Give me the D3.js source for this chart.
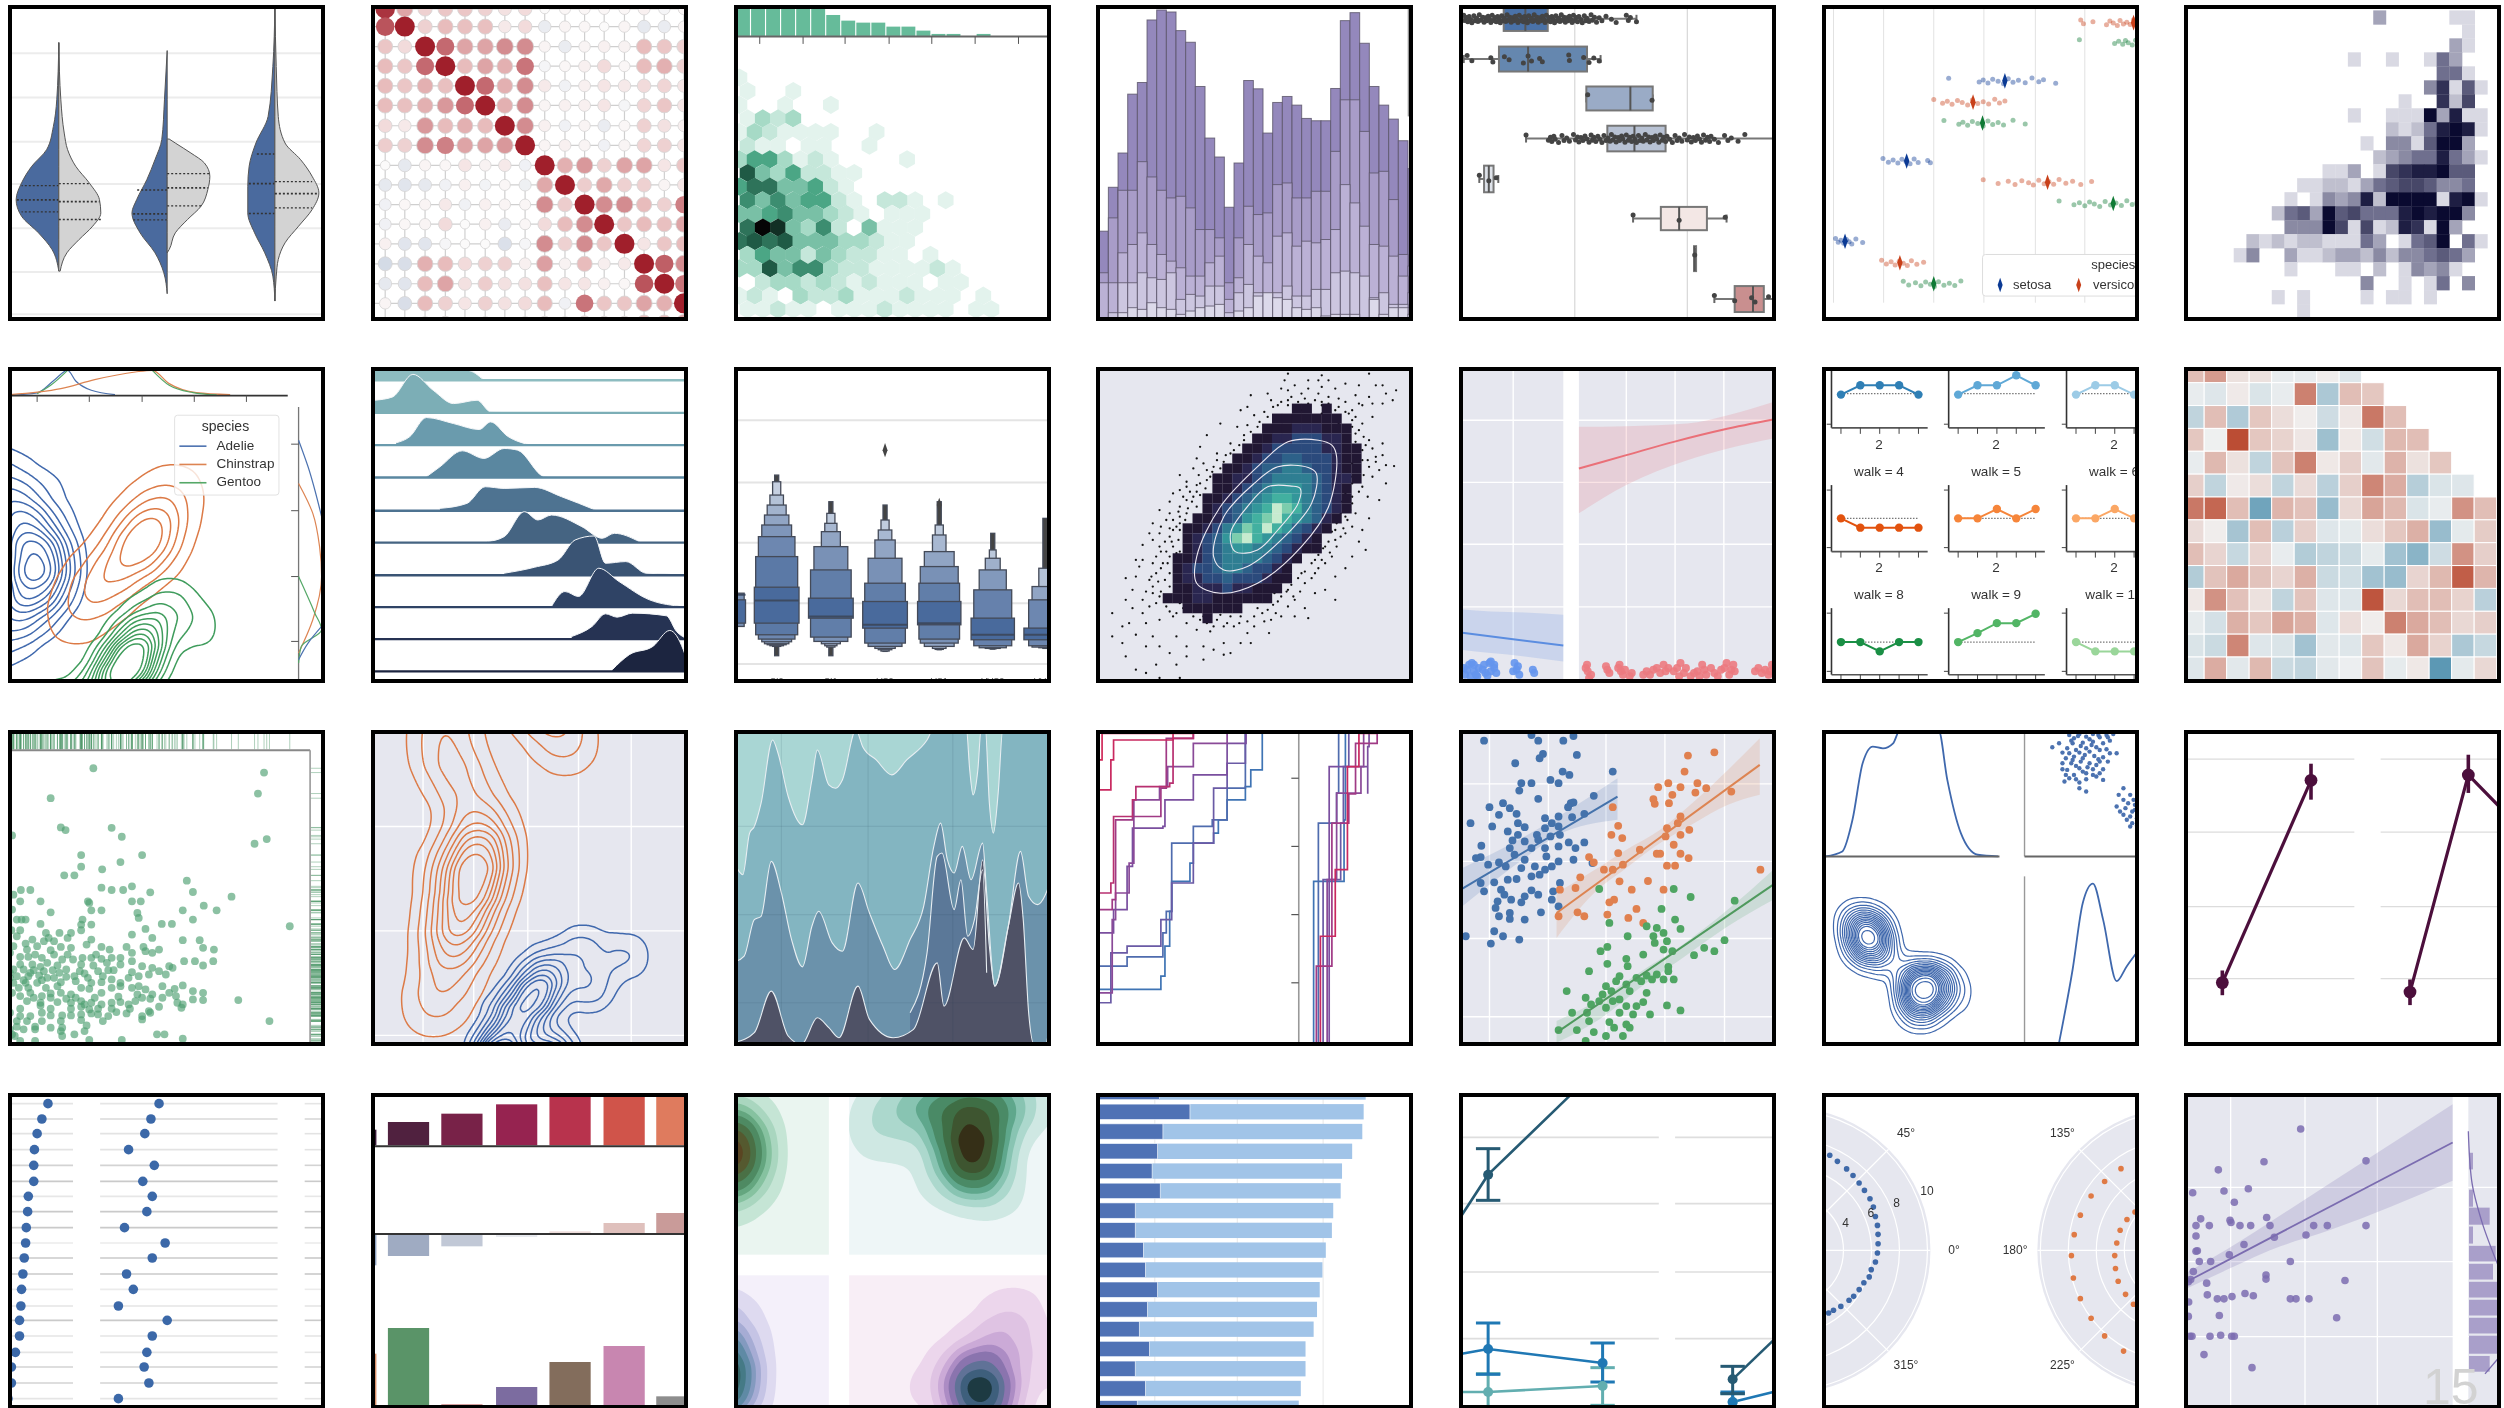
<!DOCTYPE html>
<html>
<head>
<meta charset="utf-8">
<title>seaborn gallery montage</title>
<script src="https://cdn.jsdelivr.net/npm/d3@7"></script>
<style>
html, body { margin: 0; padding: 0; background: #fff; overflow: hidden; }
svg { display: block; filter: blur(0.75px); font-family: "Liberation Sans", Arial, sans-serif; }
</style>
</head>
<body>
<svg id="chart" width="2504" height="1408"></svg>
<script>
// ---- panel grid -------------------------------------------------------------
const colLeft = [8, 371, 734, 1096, 1459, 1822, 2184];
const rowTop = [5, 367, 730, 1093];
const panelW = 317, panelH = 316;
// every panel has unlabelled axes, so values are read on a per panel axis span
const xSpans = [[12, 480], [548, 1017], [1085, 1553], [16, 485], [553, 1021], [1090, 1558], [42, 993]];
const ySpans = [[15, 965], [20, 970], [30, 980], [38, 986]];
const ySpansLast = [[10, 715], [818, 1523], [60, 763], [865, 1568]];

// ---- data: violins ----------------------------------------------------------
const violinCenters = [87, 247, 406];
const violinLeft = [
  [[128,0],[300,3],[380,8],[450,18],[500,40],[550,55],[600,63],[650,55],[700,30],[750,10],[815,0]],
  [[152,0],[300,4],[420,8],[480,18],[540,30],[600,45],[640,52],[700,40],[760,18],[820,5],[883,0]],
  [[20,0],[200,3],[350,10],[430,28],[500,38],[560,40],[640,40],[700,30],[760,15],[830,3],[905,0]]];
const violinRight = [
  [[128,0],[300,3],[400,8],[450,13],[500,25],[550,45],[600,60],[640,62],[680,50],[720,30],[760,12],[815,2]],
  [[418,3],[430,12],[460,35],[490,55],[530,63],[570,60],[620,50],[660,30],[700,12],[750,3],[760,0]],
  [[20,0],[200,2],[350,5],[430,15],[480,38],[530,55],[580,65],[630,55],[680,35],[730,15],[780,5],[830,2],[905,0]]];
const violinQuartLeft = [[558,601,637],[571,643,661],[463,552,642]];
const violinQuartRight = [[552,606,660],[522,565,619],[546,582,625]];
const violinGrid = [160,293,426,553,686,818,945];

// ---- data: correlation dots -------------------------------------------------
const corrCols = [569,598,628,658,687,717,746,776,805,835,864,893,923,952,982,1011];
const corrRows = [27,80,140,199,258,317,378,437,497,556,615,674,733,793,853,912,970];
const corrValues = [
  [.9,.4,.2,.25,.25,.2,.12,.15,0,.02,.02,.02,.02,.05,-.03,.03],
  [.75,1,.2,.3,.28,.28,.08,.15,-.08,.03,.02,0,.03,-.1,-.08,.03],
  [.25,.15,1,.65,.4,.4,.5,.5,.03,-.08,.03,.05,.04,.3,.25,.2],
  [.3,.25,.65,1,.3,.4,.35,.6,-.03,.02,.05,.15,.02,.3,.35,.2],
  [.3,.25,.35,.28,1,.65,.35,.5,.08,-.05,.05,.1,.08,.15,.18,.1],
  [.3,.28,.35,.45,.65,1,.35,.5,.03,.05,.05,.1,-.03,.18,.25,.1],
  [.15,.08,.45,.3,.35,.3,1,.5,.05,-.05,.03,-.08,.02,.2,.12,.05],
  [.22,.2,.5,.55,.4,.4,.45,1,.03,.05,.03,-.05,.03,.18,.2,.1],
  [0,-.1,.03,.02,.1,.04,.08,-.05,1,.35,.45,.2,.4,.4,.1,.25],
  [-.1,-.12,-.1,-.05,.05,-.04,.02,-.06,.38,1,.22,.38,.2,.2,.03,.1],
  [-.05,.02,.03,.08,-.05,.05,.03,.02,.5,.22,1,.5,.5,.3,.2,.55],
  [-.05,.02,.03,.15,0,.05,-.08,.02,.15,.3,.5,1,.25,.3,.28,.4],
  [.05,-.12,-.12,-.03,0,0,-.15,-.03,.5,.2,.5,.25,1,.1,.25,.3],
  [-.18,-.16,.35,.3,.15,.2,.2,.05,.42,.04,.3,.06,.08,1,.7,.5],
  [-.1,-.12,.3,.4,.12,.22,.12,.12,.28,.1,.1,.05,.02,.75,1,.6],
  [.03,-.16,.3,.2,.1,.2,.12,.15,.3,-.05,.6,.25,.25,.4,.35,1],
  [0,0,.05,.1,0,.05,0,.05,.1,.05,.15,.1,.1,.3,.3,.4]];

// ---- data: hexbin -----------------------------------------------------------
const hexTopBars = [25,25,25,25,25,25,45,62,68,68,80,80,92,102,102,110,102];
const hexTicks = [1123,1187,1249,1314,1377,1441,1505];
const hexRowY = [233,274,315,356,397,438,479,520,561,602,643,684,725,766,807,848,889,930];
const hexRowStart = [1093,1105,1093,1105,1093,1105,1093,1105,1093,1105,1093,1105,1093,1105,1093,1105,1093,1105];
const hexCounts = [
  [1],
  [1,0,0,1],
  [1,0,0,1,0,0,1],
  [1,3,2,3],
  [1,3,2,1,1,1,1,0,0,1],
  [2,1,1,0,1,1,0,0,1],
  [3,5,5,3,1,2,1,0,0,0,0,1],
  [8,4,3,5,2,2,1,1],
  [5,7,7,4,4,5,2,1],
  [6,4,6,4,5,5,2,1,0,2,2,1,0,1],
  [4,4,5,6,4,4,3,2,1,0,1,1,1],
  [7,10,9,4,3,6,2,0,4,1,1,1],
  [7,8,7,8,4,4,4,3,3,2,1,1],
  [3,5,4,4,2,4,3,2,2,1,1,0,1],
  [3,3,8,4,6,6,3,2,2,1,1,1,1,2,1],
  [0,2,3,3,2,3,2,1,2,1,1,1,0,1,1],
  [1,2,1,0,3,2,2,3,1,1,1,2,1,1,1,0,1],
  [1,1,2,1,1,0,1,1,1,2,1,1,1,1,0,1,1]];

// ---- data: stacked histogram ------------------------------------------------
const histLayer1 = [695,563,460,283,248,60,30,36,92,127,260,415,472,623,490,242,267,400,308,290,316,356,363,363,266,62,38,130,260,316,358,423,507];
const histLayer2 = [820,655,572,572,486,532,572,595,590,625,690,690,715,850,715,620,645,640,555,550,595,595,575,575,455,300,300,395,520,515,600,765,800];
const histLayer3 = [850,850,760,735,700,735,765,785,805,830,830,790,770,900,835,735,770,790,710,700,740,725,730,720,690,555,610,680,735,740,770,830,880];
const histLayer4 = [960,940,850,850,820,835,840,820,900,885,890,860,860,940,880,855,880,900,880,860,890,890,870,870,820,815,820,830,895,880,915,915,925];
const histLayer5 = [975,975,940,925,930,910,925,930,945,935,925,920,915,965,935,925,890,880,895,900,925,930,925,950,945,945,945,955,900,945,925,925,945];
const histColors = ["#9488bc","#a89cc8","#bbb1d5","#ccc6e0","#dcd9ea"];

// ---- data: box plot with strip ----------------------------------------------
const boxLo = [619,612,741,772,590,851,900,960];
const boxHi = [684,742,839,858,604,919,903,1003];
const boxMed = [651,655,806,812,597,878,901,987];
const whiskLo = [560,560,741,652,583,810,901,930];
const whiskHi = [815,762,839,1017,611,948,901,1017];
const boxY = [[20,93],[140,215],[260,332],[378,455],[498,578],[622,692],[740,815],[860,938]];
const boxFill = ["#4a72a8","#6587af","#9aabc6","#b8c2d4","#dfe3ea","#f3e7e5","#eadada","#c98f8f"];
const stripX = [
  [560,562,564,566,568,570,572,575,577,579,581,583,585,588,590,592,594,596,598,600,602,604,606,608,610,612,614,616,618,620,622,624,626,628,630,632,634,636,638,640,642,644,646,648,650,652,654,656,658,660,662,664,666,668,670,672,674,676,678,680,682,684,686,688,690,692,694,696,698,700,702,704,706,708,710,712,714,716,718,720,722,724,726,728,730,733,735,738,740,742,745,748,750,753,756,760,764,770,778,785,800,803,806,815],
  [565,572,600,603,620,627,648,655,660,672,676,715,716,737,745,752,760],
  [743,838],
  [652,685,688,690,693,695,700,705,708,712,716,722,725,728,730,733,736,739,742,745,748,750,752,755,758,761,764,767,770,773,776,778,780,783,785,788,790,793,795,798,800,803,805,808,810,813,815,818,820,823,825,828,830,833,835,838,840,843,845,848,850,853,855,858,860,864,868,872,875,878,882,886,890,893,896,899,902,905,908,911,914,917,920,923,925,930,936,945,950,955,965,975],
  [583,597,608],
  [810,878,946],
  [901],
  [930,960,985,990,1010]];
const stripJitter = [-11,5,-4,9,-7,2,12,-9,6,-2,8,-12,4,-5,10,-3,6,-8,1,11];

// ---- data: iris strip -------------------------------------------------------
const irisGrid = [1107,1181,1255,1329,1405,1478];
const irisRows = [68,127,243,307,370,484,548,612,725,790,853];
const irisKind = [1,2,0,1,2,0,1,2,0,1,2];
const irisMean = [1550,1580,1360,1313,1327,1215,1423,1520,1124,1205,1255];
const irisX = [
  [1472,1476,1490,1510,1515,1520,1526,1530,1535,1540,1545,1550,1555],
  [1470,1522,1528,1534,1538,1542,1548,1553],
  [1277,1322,1328,1335,1342,1350,1358,1365,1372,1380,1390,1400,1410,1417,1435],
  [1255,1268,1275,1282,1290,1297,1305,1312,1320,1328,1336,1345,1352,1360],
  [1270,1292,1298,1305,1312,1320,1328,1335,1342,1350,1358,1372,1390],
  [1180,1188,1195,1202,1208,1214,1220,1226,1232,1246,1250],
  [1328,1350,1365,1375,1385,1395,1402,1410,1418,1425,1432,1440,1450,1460,1472,1488],
  [1440,1462,1470,1478,1485,1492,1500,1508,1516,1524,1532,1540,1548,1555],
  [1110,1114,1118,1122,1126,1130,1134,1140,1150],
  [1178,1185,1192,1198,1204,1210,1216,1222,1230,1240],
  [1210,1218,1228,1236,1243,1250,1256,1262,1270,1278,1286,1295]];
const irisColors = ["#0b3a94","#c8401a","#0f7a35"];

// ---- data: 2d histogram -----------------------------------------------------
const gridCells = [
  [0,14,3],[0,20,1],[0,21,1],[1,21,1],[2,20,3],[2,21,1],
  [3,12,1],[3,15,1],[3,18,1],[3,19,5],[3,20,3],[4,19,5],[4,20,5],[4,21,1],
  [5,18,4],[5,19,8],[5,20,1],[5,21,6],[5,22,1],[6,16,1],[6,19,8],[6,20,2],[6,21,7],
  [7,12,1],[7,15,1],[7,16,1],[7,17,1],[7,18,10],[7,19,3],[7,20,9],[7,21,1],[7,22,1],
  [8,15,2],[8,16,1],[8,17,2],[8,18,5],[8,19,9],[8,20,10],[8,21,9],[8,22,1],
  [9,13,1],[9,15,4],[9,16,4],[9,17,1],[9,18,6],[9,19,10],[9,20,10],[9,21,3],
  [10,14,2],[10,15,3],[10,16,4],[10,17,5],[10,18,5],[10,19,9],[10,20,5],[10,21,3],[10,22,1],
  [11,10,1],[11,11,1],[11,12,3],[11,14,1],[11,15,7],[11,16,8],[11,17,9],[11,18,9],[11,19,10],[11,20,6],[11,21,6],
  [12,8,1],[12,9,1],[12,10,2],[12,11,2],[12,12,1],[12,13,3],[12,14,5],[12,15,6],[12,16,7],[12,17,7],[12,18,6],[12,19,4],[12,20,4],[12,21,5],
  [13,7,1],[13,9,1],[13,10,4],[13,11,3],[13,12,4],[13,13,9],[13,14,2],[13,15,10],[13,16,10],[13,17,10],[13,18,10],[13,19,1],[13,20,9],[13,21,10],[13,22,1],
  [14,6,2],[14,7,5],[14,8,6],[14,9,3],[14,10,10],[14,11,6],[14,12,7],[14,13,5],[14,14,5],[14,15,5],[14,16,9],[14,17,10],[14,18,9],[14,19,10],[14,20,10],[14,21,4],
  [15,7,4],[15,8,4],[15,9,4],[15,10,10],[15,11,7],[15,12,1],[15,13,7],[15,14,1],[15,15,2],[15,16,9],[15,17,8],[15,18,1],[15,19,10],[15,20,3],
  [16,4,2],[16,5,1],[16,6,2],[16,7,1],[16,8,2],[16,9,2],[16,10,1],[16,11,1],[16,12,1],[16,13,5],[16,14,3],[16,16,1],[16,17,5],[16,18,6],[16,19,10],[16,21,5],[16,22,1],
  [17,3,1],[17,4,4],[17,7,3],[17,8,1],[17,9,1],[17,10,2],[17,11,3],[17,12,3],[17,13,2],[17,14,4],[17,15,2],[17,16,4],[17,17,4],[17,18,5],[17,19,6],[17,20,5],[17,21,3],
  [18,7,1],[18,11,1],[18,12,1],[18,14,2],[18,16,1],[18,17,4],[18,18,3],[18,19,4],[18,20,1],
  [19,13,4],[19,16,1],[19,18,1],[19,19,5],[19,21,4],
  [20,6,1],[20,8,1],[20,13,1],[20,15,1],[20,16,1],[20,18,1],[21,8,1]];

// ---- data: KDE with marginals -----------------------------------------------
const penguinAdelie = [[-10,340,1.2],[15,420,2],[35,500,4],[55,600,7],[50,680,5],[20,770,3],[-25,860,1.2],[95,300,.4],[130,400,.3]];
const penguinChinstrap = [[110,780,1.5],[135,700,3],[165,645,4],[200,575,6],[222,520,6],[238,450,3],[262,385,1.2]];
const penguinGentoo = [[130,1050,3],[170,970,6],[195,900,7],[215,820,4],[250,730,1.5],[290,800,1],[100,1050,1],[60,1050,1]];
const margTopAdelie = [[15,105],[55,98],[80,60],[100,30],[112,62],[135,90],[170,103]];
const margTopGentoo = [[55,100],[75,75],[100,30]];
const margTopChinstrap = [[15,103],[90,85],[140,58],[200,35],[225,30],[250,70],[290,97],[340,103]];
const margTopGentoo2 = [[225,30],[250,75],[285,97],[320,104]];
const margRightAdelie = [[441,240],[455,320],[475,470]];
const margRightChinstrap = [[441,370],[462,460],[472,560],[475,650],[462,780],[441,880]];
const margRightGentoo = [[441,650],[465,760],[475,810],[445,860],[441,910]];
const margRightAdelie2 = [[475,800],[455,850],[441,900]];

// ---- data: ridge plot -------------------------------------------------------
const ridgeBase = [60,158,255,352,452,548,646,742,838,935];
const ridgeColors = ["#8dbcc0","#7caeb6","#6a9bad","#5a87a0","#4e7391","#456482","#3a5474","#2f4365","#263353","#1c2540"];
const ridgeShapes = [
  [[553,30],[620,30],[690,30],[715,60]],
  [[553,120],[580,110],[610,42],[640,90],[670,130],[705,120],[725,155],[760,158]],
  [[585,248],[605,230],[630,172],[670,190],[708,208],[725,185],[750,228],[785,255]],
  [[630,350],[650,320],[683,272],[715,295],[745,265],[765,270],[805,350],[825,352]],
  [[650,445],[690,430],[717,380],[745,385],[790,382],[830,410],[880,450]],
  [[720,545],[745,530],[775,455],[795,480],[815,465],[860,500],[890,535],[908,520],[945,545]],
  [[745,640],[790,622],[825,600],[850,540],[878,528],[895,610],[925,605],[955,640],[990,642]],
  [[815,740],[835,695],[855,710],[885,625],[915,665],[960,720],[1010,740]],
  [[845,830],[875,800],[895,762],[912,772],[935,760],[985,768],[1000,815],[1017,838]],
  [[905,930],[930,885],[965,860],[990,812],[1010,870],[1020,935]]];

// ---- data: letter value plot ------------------------------------------------
const boxenGrid = [180,367,548,730,913];
const boxenCenters = [1072,1148,1228,1308,1388,1467,1545];
const boxenLevels = [
  [[540,815,8],[640,808,18],[700,800,28],[720,790,30]],
  [[345,888,3],[365,860,6],[405,858,10],[435,855,14],[465,852,18],[495,846,22],[530,838,27],[590,825,31],[682,790,33]],
  [[425,888,3],[460,862,6],[490,858,9],[515,852,14],[560,845,25],[630,832,30],[715,775,33]],
  [[435,875,3],[480,874,6],[510,870,10],[540,866,15],[595,860,25],[670,850,30],[725,805,33]],
  [[425,870,3],[495,869,6],[525,866,10],[575,860,22],[620,850,28],[670,838,30],[725,795,32]],
  [[520,868,3],[570,867,5],[595,866,11],[630,864,20],[690,858,28],[775,840,32]],
  [[475,866,4],[625,864,10],[680,862,20],[720,858,25],[805,840,32]]];
const boxenMedian = [705,722,770,795,790,825,825];
const boxenOutliers = [[1308,270],[1388,435]];
const boxenLabels = ["SI2","SI1","VS2","VS1","VVS2","VVS1"];

// ---- data: hist2d with scatter and contours ---------------------------------
const hexmapRows = [145,175,205,235,265,295,325,355,385,415,445,475,505,535,565,595,625,655,685,715,745,775];
const hexmapStart = [14,12,11,10,9,8,7,6,6,5,5,4,3,3,3,2,2,2,2,1,3,5];
const hexmapValues = [
  [1,1,0,1],
  [1,1,1,1,1,1,1],
  [1,1,1,2,2,2,1,1,1],
  [1,1,2,2,3,3,3,2,2,1],
  [1,1,2,3,3,3,3,3,2,2,1,1],
  [1,1,2,3,3,4,4,3,3,3,2,1,1],
  [1,1,2,3,4,4,5,5,4,3,3,2,1,1],
  [1,1,2,2,3,4,5,5,5,5,4,3,2,2,1],
  [1,1,2,3,4,5,6,6,6,5,4,3,2,1],
  [1,1,2,3,4,5,6,7,7,6,5,4,3,2,1],
  [1,2,3,4,5,6,7,9,8,7,5,4,3,2,1],
  [1,1,2,3,4,6,7,8,9,7,6,5,4,2,1],
  [1,1,2,3,5,6,8,7,9,7,6,4,3,2,1],
  [1,2,3,4,6,8,9,7,6,5,4,3,2,1],
  [1,2,3,4,5,6,6,5,5,4,3,2,1,1],
  [1,1,2,3,4,5,5,5,5,4,3,2,1],
  [1,2,3,3,4,5,5,4,3,3,2,1],
  [1,2,2,3,3,4,3,3,3,2,1,1],
  [1,1,2,2,2,3,2,2,1,1,1],
  [1,1,1,2,2,1,1,1,1,1,1],
  [1,1,1,1,1,1],
  [1]];
const makoRamp = ["#e6e7ef","#211733","#2a2650","#2b4a7c","#2d6189","#2f7e92","#33969a","#42b0a0","#7ccdad","#c6ebcf","#e3f5e6"];
const hexmapRing1 = [[345,240],[300,245],[260,310],[200,440],[165,590],[165,670],[200,700],[255,670],[320,560],[360,440],[372,290],[365,255]];
const hexmapRing2 = [[330,322],[285,320],[250,370],[205,470],[190,590],[205,630],[240,620],[290,540],[335,430],[342,340]];
const hexmapRing3 = [[305,378],[270,380],[240,440],[215,520],[222,575],[255,570],[285,510],[315,430],[318,385]];
const hexmapDots = [[300,40],[350,45],[420,40],[295,60],[345,60],[310,75],[330,85],[385,70],[405,75],[430,75],[460,90],[445,100],[320,100],[345,100],[360,110],[305,110],[375,115],[400,105],[420,110],[245,105],[240,140],[230,150],[285,135],[300,120],[330,130],[350,125],[375,140],[395,150],[410,135],[440,130],[455,120],[395,180],[410,190],[425,170],[400,220],[420,240],[440,250],[410,270],[430,290],[420,320],[445,315],[457,318],[405,320],[435,330],[395,350],[410,380],[395,410],[385,440],[400,460],[395,500],[405,545],[415,570],[385,520],[370,540],[365,590],[350,600],[340,640],[370,650],[355,690],[370,720],[330,775],[300,690],[310,720],[285,725],[290,770],[250,800],[272,820],[240,820],[220,800],[205,850],[200,190],[170,260],[190,320],[160,325],[185,350],[150,380],[160,410],[125,425],[140,440],[150,460],[120,480],[100,490],[135,500],[125,530],[100,540],[110,560],[105,590],[75,600],[80,620],[105,640],[95,660],[70,690],[100,680],[125,680],[110,710],[85,720],[60,720],[95,740],[120,740],[40,760],[65,790],[90,790],[110,780],[130,770],[150,790],[165,810],[185,815],[75,825],[100,830],[135,830],[55,850],[110,860],[150,860],[175,860],[205,885],[75,930],[90,940],[105,915],[135,915],[110,955],[140,955],[210,790],[130,560],[120,575],[115,610],[125,640],[140,575],[150,720],[145,745],[175,770],[195,780],[230,770],[255,745],[280,700],[300,660],[320,640],[340,600],[355,560],[370,510],[385,470],[395,430],[390,390],[400,345],[395,310],[410,300],[375,190],[350,160],[320,150],[270,170],[255,200],[235,240],[215,280],[195,300],[180,330],[170,370],[165,395],[150,420],[140,470],[130,510],
  [390,160],[400,170],[385,155],[395,200],[405,210],[412,230],[400,245],[415,255],[425,265],[405,290],[418,300],[430,305],[440,285],[400,330],[412,345],[425,350],[390,330],[395,370],[405,395],[418,410],[385,400],[380,425],[392,450],[378,460],[388,480],[372,490],[382,505],[365,515],[378,530],[360,545],[372,560],[352,565],[362,578],[345,585],[355,610],[335,610],[345,625],[325,635],[335,655],[315,655],[325,670],[305,675],[318,695],[298,695],[308,710],[290,710],[300,740],[278,735],[270,750],[282,760],[262,760],[250,770],[265,785],[240,785],[228,790],[215,770],[200,765],[205,800],[190,800],[180,790],[170,780],[160,770],[155,750],[140,730],[135,760],[125,755],[118,725],[105,730],[100,700],[112,695],[90,695],[108,665],[118,660],[98,650],[112,625],[122,610],[100,610],[125,590],[135,580],[112,575],[118,545],[128,545],[138,540],[110,520],[125,505],[140,510],[112,500],[130,480],[140,490],[148,480],[125,460],[138,455],[152,445],[130,400],[145,410],[158,425],[165,440],[140,390],[155,395],[170,405],[150,365],[165,375],[178,385],[168,345],[180,360],[192,345],[175,310],[188,335],[200,325],[205,305],[195,280],[208,285],[220,270],[215,250],[228,255],[235,225],[245,215],[225,200],[240,195],[258,185],[250,165],[265,155],[278,140],[275,120],[290,125],[300,135],[315,125],[325,115],[340,120],[350,135],[360,130],[370,150],[385,125],[330,60],[370,85],[300,90],[350,80],[405,130],[425,130],[360,60],[290,85],[440,75],[270,100],[85,600],[75,650],[60,655],[85,760],[70,745],[55,800],[40,830],[90,860],[125,880],[60,890],[150,890],[175,900],[190,870],[215,880],[230,850],[245,850],[275,780],[310,770],[325,745],[340,700],[385,625],[395,590],[410,510],[420,475],[435,420],[445,370],[180,225],[165,295],[140,345],[110,450],[95,520],[85,555]];

// ---- data: logistic lm ------------------------------------------------------
const logitBlueLine = [[555,818],[630,838],[707,857]];
const logitBlueBand = [[555,748,870],[600,755,880],[650,758,890],[707,765,905]];
const logitRedLine = [[730,325],[800,285],[870,245],[944,208],[1017,178]];
const logitRedBand = [[730,200,460],[800,198,375],[890,190,300],[950,165,265],[1017,125,235]];
const logitBlueDots = [[560,925],[562,945],[568,915],[575,935],[580,950],[590,915],[598,910],[600,935],[605,925],[635,910],[638,930],[642,945],[662,930],[572,910],[592,940],[570,950],[582,925],[565,930],[575,915],[588,930],[595,948],[605,915],[608,940],[640,920],[633,935],[578,945],[600,905],[664,940]];
const logitRedDots = [[742,915],[743,935],[745,955],[772,930],[790,915],[792,935],[795,945],[805,950],[830,935],[835,945],[845,925],[855,915],[858,935],[875,925],[880,910],[885,940],[895,950],[905,935],[912,915],[918,945],[925,925],[935,950],[940,930],[948,910],[955,930],[960,935],[995,925],[1000,940],[1010,945],[1015,915],[740,925],[748,945],[770,920],[775,940],[788,925],[798,930],[808,940],[825,945],[840,930],[850,940],[862,925],[870,935],[878,950],[888,925],[900,940],[908,950],[915,930],[930,940],[945,925],[952,945],[958,915],[990,935],[1005,930],[1012,935],[1018,925]];

// ---- data: walk facets ------------------------------------------------------
const walkColLeft = [1118,1291,1465];
const walkTitles = [["walk = 1","walk = 2","walk = 3"],["walk = 4","walk = 5","walk = 6"],["walk = 8","walk = 9","walk = 10"]];
const walkMid = [100,475,847];
const walkColors = [["#2f7fb5","#5fa8d6","#9ccbe6"],["#e2520e","#f6853a","#fba765"],["#1a8f45","#52b565","#9ad69a"]];
const walkValues = [
  [[103,75,75,75,103],[103,75,75,45,75],[103,75,75,103,103]],
  [[475,503,503,503,503],[475,475,447,475,447],[475,475,447,475,475]],
  [[847,847,875,847,847],[847,820,790,790,762],[847,875,875,875,875]]];

// ---- data: diverging triangle heatmap ---------------------------------------
const triValues = [
  [.3,.5,.1,.1,-.05,-.05,.03,-.1],
  [-.05,-.1,.05,-.12,-.05,.65,-.35,.3,.25],
  [-.25,.3,-.33,.25,.12,.03,-.18,.07,.7,.3],
  [.25,-.02,.95,.25,.18,.07,-.42,.06,-.17,.33,.3],
  [-.05,.33,.1,-.25,.27,.65,.06,.2,-.08,.36,.1,.25],
  [.2,-.25,.05,.12,-.25,.13,-.28,.2,.62,.4,-.3,-.12,-.1],
  [.7,.8,.3,-.65,.35,.28,-.45,.15,.45,.33,-.12,-.05,.55,.3],
  [.13,.03,-.38,.3,-.28,.2,-.1,-.07,.12,.25,.38,-.45,-.07,.22],
  [.3,.17,-.22,.17,-.05,-.32,-.25,-.2,-.06,-.4,-.52,-.18,.55,.2],
  [-.32,.27,.42,.27,.17,.38,-.2,-.17,-.4,-.45,.17,.33,.85,.35],
  [.06,.55,.28,.1,-.25,.27,-.1,-.1,.9,.15,.3,.3,.18,-.28],
  [-.06,-.15,.38,.25,.45,.38,-.1,.12,.03,.65,.42,.3,.15,.2],
  [-.12,-.2,.62,-.1,-.12,-.4,-.08,-.1,.25,.06,.42,.18,-.35,-.22],
  [-.1,.4,-.08,.33,-.2,-.25,-.08,-.03,.27,-.06,.06,-.75,-.07,.15]];

// ---- data: scatter with rugs ------------------------------------------------
const rugScatter = [[138,145],[390,158],[381,221],[75,235],[90,323],[97,331],[165,324],[18,347],[180,351],[376,372],[394,358],[120,406],[210,406],[178,427],[120,441],[151,449],[95,467],[110,467],[276,483],[31,511],[45,511],[20,525],[150,504],[165,511],[182,511],[195,500],[222,518],[285,517],[342,531],[30,545],[60,545],[130,545],[195,545],[208,545],[132,550],[18,570],[135,572],[150,572],[270,572],[301,558],[320,572],[75,578],[203,580],[205,595],[285,600],[25,600],[32,600],[38,600],[122,600],[120,615],[60,613],[135,615],[239,613],[254,613],[428,620],[17,632],[30,632],[68,640],[88,640],[105,640],[215,628],[120,632],[195,645],[225,655],[72,655],[65,665],[135,660],[270,662],[295,662],[38,672],[20,680],[90,682],[105,685],[150,682],[187,682],[212,682],[300,685],[316,690],[235,690],[225,700],[40,690],[75,692],[215,695],[30,712],[42,712],[62,715],[92,720],[108,720],[122,715],[135,715],[150,718],[165,715],[178,715],[195,725],[272,725],[288,725],[315,725],[70,730],[300,738],[250,740],[235,755],[245,765],[255,745],[20,750],[35,750],[50,752],[65,755],[78,752],[98,750],[160,752],[168,752],[195,758],[25,770],[42,770],[58,768],[70,775],[110,770],[130,775],[152,770],[20,790],[38,790],[55,790],[90,788],[112,785],[135,790],[150,788],[178,790],[178,800],[240,800],[270,798],[18,820],[45,820],[75,822],[90,820],[105,825],[150,820],[203,825],[225,825],[250,820],[285,815],[300,820],[222,838],[50,835],[75,835],[285,840],[300,842],[352,842],[60,850],[125,855],[135,850],[150,855],[165,850],[190,855],[270,855],[235,862],[60,858],[120,862],[145,868],[165,868],[268,865],[220,875],[30,890],[45,890],[75,888],[92,888],[105,888],[120,885],[145,885],[160,890],[187,882],[210,890],[210,900],[398,905],[90,905],[25,922],[52,922],[92,925],[128,918],[18,945],[22,950],[52,930],[90,935],[232,945],[243,945],[30,965],[52,965],[132,962],[180,962],[270,958],
  [25,650],[48,660],[80,665],[100,655],[55,680],[128,675],[162,690],[195,700],[15,700],[52,705],[80,705],[100,705],[142,705],[158,730],[178,735],[210,740],[225,745],[30,735],[48,735],[85,738],[120,735],[138,738],[15,760],[45,760],[60,742],[88,760],[118,755],[145,755],[205,770],[220,765],[15,775],[35,782],[62,782],[80,775],[98,772],[125,762],[165,780],[190,775],[205,800],[215,810],[28,805],[42,805],[68,805],[85,800],[120,805],[132,808],[165,805],[195,805],[258,808],[30,830],[62,830],[98,838],[112,835],[140,835],[175,832],[210,835],[240,835],[260,830],[40,845],[85,848],[105,850],[120,845],[178,848],[200,845],[262,850],[30,868],[75,868],[105,868],[132,870],[192,868],[15,880],[62,880],[135,882],[172,878],[222,880],[40,905],[62,905],[120,902],[152,905],[35,930],[75,925],[125,935],[25,905],[92,950],[110,945],[15,930]];

// ---- data: two KDEs ---------------------------------------------------------
const kdeOrange = [[640,865,1.6],[660,780,2],[670,680,4],[685,590,6],[700,490,8],[710,400,7],[705,300,3],[680,180,2.5],[655,90,2.4],[660,-40,2.5],[810,-30,3],[835,70,2],[790,-90,2.5],[660,450,2],[655,600,1]];
const kdeBlue = [[740,1010,8],[760,900,4],[790,830,4.5],[810,760,2.5],[860,690,1.2],[925,710,1.0],[810,1010,4],[870,800,1.5]];
const kdeGridX = [625,700,780,855,933];
const kdeGridY = [320,634,948];

// ---- data: stacked teal area ------------------------------------------------
const areaLineA = [[1088,440],[1098,465],[1108,340],[1115,320],[1125,250],[1142,60],[1150,100],[1165,230],[1186,315],[1200,180],[1208,90],[1225,195],[1235,205],[1245,180],[1265,30],[1275,80],[1295,120],[1318,165],[1340,120],[1370,60],[1380,25],[1428,25],[1433,150],[1438,225],[1445,150],[1450,25],[1456,25],[1462,250],[1468,340],[1475,220],[1482,25],[1555,25]];
const areaLineB = [[1088,725],[1100,710],[1115,600],[1125,590],[1140,425],[1155,520],[1170,660],[1186,742],[1200,620],[1210,575],[1230,670],[1245,695],[1268,490],[1285,580],[1305,680],[1322,750],[1345,660],[1365,560],[1380,380],[1390,310],[1400,420],[1410,460],[1422,380],[1435,480],[1452,370],[1458,520],[1470,800],[1490,620],[1508,395],[1520,530],[1533,555],[1555,470]];
const areaLineC = [[1345,880],[1370,700],[1385,410],[1392,400],[1410,570],[1420,480],[1430,650],[1440,600],[1452,450],[1458,760]];
const areaLineD = [[1088,968],[1115,940],[1140,815],[1165,950],[1185,975],[1208,895],[1225,925],[1240,955],[1268,800],[1285,900],[1320,955],[1350,930],[1385,730],[1395,860],[1425,655],[1438,690],[1452,420],[1462,680],[1470,800],[1490,620],[1505,490],[1512,600],[1520,880],[1528,975],[1545,975],[1555,800]];
const areaGridX = [1155,1283,1408];
const areaGridY = [320,585,850];

// ---- data: ECDF steps -------------------------------------------------------
const stepColors = ["#3f74b4","#4f6cae","#6a5aa5","#7a4f9f","#8a4a98","#a03a85","#b83070","#c9285f","#d02a5a"];
const stepLeft = [
  [[20,810],[112,770],[118,680],[125,575],[128,485],[155,430],[160,370],[190,340],[197,300],[210,240],[237,200],[245,150],[262,100],[262,30]],
  [[20,740],[62,712],[115,640],[120,575],[128,370],[160,320],[188,300],[210,205],[237,30]],
  [[20,850],[38,700],[62,680],[112,600],[128,490],[160,370],[190,205],[210,130],[237,30]],
  [[20,640],[42,570],[62,440],[70,325],[115,320],[118,240],[160,165],[210,70],[238,30]],
  [[20,820],[40,600],[45,520],[65,430],[72,240],[110,200],[122,140],[160,70],[210,30]],
  [[20,570],[40,540],[45,300],[70,290],[112,205],[120,55],[160,30]],
  [[20,520],[38,490],[42,290],[70,240],[75,200],[125,190],[130,55],[160,30]],
  [[20,210],[38,120],[42,60],[130,30]],
  [[20,120],[25,40],[160,30]]];
const stepRight = [
  [[338,975],[338,485],[383,300],[385,140],[385,30]],
  [[345,975],[345,310],[372,220],[375,30]],
  [[352,975],[352,480],[378,310],[382,140],[390,30]],
  [[361,975],[361,140],[418,222],[418,80],[420,30]],
  [[358,975],[358,480],[372,220],[408,140],[412,30]],
  [[342,975],[342,740],[365,310],[390,222],[400,70],[432,30]],
  [[348,975],[348,650],[370,450],[388,140],[405,40],[430,30]]];
const stepRightColors = ["#3f74b4","#4f6cae","#6a5aa5","#7a4f9f","#8a4a98","#a03a85","#c9285f"];
const stepTicksY = [175,380,585,790];

// ---- data: three lm groups --------------------------------------------------
const lmGridX = [598,685,770,857,945];
const lmGridY = [192,425,657,892];
const lmBlueLine = [[558,507],[787,230]];
const lmOrangeLine = [[697,580],[997,135]];
const lmGreenLine = [[697,940],[1017,495]];
const lmBlueBand = [[558,445,560],[650,350,415],[700,290,345],[787,175,300]];
const lmOrangeBand = [[697,520,655],[750,455,525],[800,390,445],[850,330,370],[900,245,310],[950,150,255],[997,55,225]];
const lmGreenBand = [[697,905,970],[760,840,900],[830,745,790],[880,680,720],[950,570,620],[1017,450,540]];
const lmBlueDots = [[590,62],[660,45],[670,62],[707,62],[722,48],[727,105],[636,130],[672,115],[677,102],[706,155],[716,165],[700,190],[688,180],[780,155],[645,190],[660,190],[642,212],[670,237],[598,262],[618,250],[628,265],[638,282],[612,285],[718,250],[722,248],[714,262],[570,310],[602,320],[640,310],[650,322],[680,295],[700,290],[720,292],[738,282],[752,228],[690,310],[700,320],[680,325],[668,345],[640,345],[625,335],[632,362],[650,365],[670,360],[688,350],[702,345],[715,368],[738,368],[725,385],[700,380],[680,385],[660,385],[628,385],[586,378],[585,412],[578,415],[635,405],[650,420],[682,410],[700,425],[722,420],[750,430],[596,435],[612,428],[622,440],[645,445],[665,440],[680,450],[690,440],[672,465],[660,470],[625,480],[638,478],[585,490],[605,488],[692,515],[702,490],[615,510],[660,512],[670,525],[650,530],[620,525],[590,515],[610,545],[630,540],[645,548],[690,540],[700,560],[607,565],[628,580],[612,590],[628,598],[650,600],[674,578],[605,635],[618,650],[642,660],[563,650],[600,672]];
const lmOrangeDots = [[891,107],[930,97],[886,155],[847,202],[862,190],[880,202],[905,190],[918,205],[955,215],[902,218],[840,238],[842,252],[868,225],[863,250],[780,262],[880,290],[876,310],[788,318],[893,330],[860,325],[778,345],[794,355],[858,350],[880,345],[870,375],[745,412],[752,428],[788,400],[845,402],[850,402],[880,402],[892,415],[820,390],[795,435],[860,438],[872,438],[790,485],[780,450],[767,450],[998,450],[732,473],[702,510],[725,505],[832,484],[855,510],[808,510],[782,540],[775,548],[815,568],[700,590],[728,578],[738,590],[772,585],[803,595],[825,610]];
const lmGreenDots = [[760,508],[870,508],[895,532],[852,568],[960,543],[775,610],[872,600],[830,620],[845,625],[880,628],[855,640],[840,650],[802,650],[945,662],[860,665],[842,670],[772,682],[762,695],[915,685],[930,695],[900,707],[868,695],[855,690],[825,705],[800,718],[772,733],[745,755],[862,742],[802,740],[845,765],[830,768],[815,775],[862,755],[855,780],[870,780],[838,780],[790,770],[785,785],[770,800],[800,795],[822,785],[712,815],[740,835],[765,825],[778,815],[790,840],[805,815],[830,820],[748,855],[760,845],[780,845],[800,860],[825,848],[860,858],[880,873],[835,885],[810,885],[790,880],[770,865],[742,880],[745,905],[775,908],[782,925],[700,932],[727,932],[752,938],[805,925],[770,950],[795,950],[740,965],[800,915],[815,860],[720,880]];

// ---- data: pair grid --------------------------------------------------------
const pairKdeTop = [[1095,410],[1120,395],[1135,300],[1150,130],[1165,80],[1180,85],[1195,70],[1205,30],[1262,30],[1275,180],[1295,340],[1320,405],[1350,410]];
const pairKdeRight = [[1440,970],[1460,750],[1475,550],[1490,492],[1505,600],[1525,785],[1540,740],[1558,690]];
const pairDots = [[1430,82],[1445,98],[1455,45],[1462,55],[1470,42],[1480,50],[1490,42],[1500,52],[1510,45],[1520,42],[1460,70],[1475,68],[1490,65],[1505,70],[1515,62],[1452,85],[1465,90],[1480,85],[1495,82],[1510,88],[1525,100],[1450,115],[1462,110],[1478,105],[1492,108],[1505,112],[1472,125],[1485,130],[1500,125],[1458,130],[1470,145],[1445,148],[1490,148],[1505,148],[1480,160],[1462,165],[1450,165],[1495,170],[1448,185],[1470,188],[1480,178],[1505,180],[1480,215],[1535,205],[1535,240],[1525,260],[1542,250],[1550,240],[1538,265],[1552,270],[1535,285],[1545,290],[1555,295],[1548,310],[1540,300],
  [1440,70],[1468,48],[1485,58],[1498,45],[1458,62],[1512,52],[1472,78],[1488,75],[1500,90],[1455,100],[1470,98],[1485,95],[1515,100],[1460,120],[1475,115],[1498,118],[1512,125],[1445,130],[1465,138],[1482,142],[1495,135],[1452,150],[1475,155],[1490,165],[1465,178],[1500,160],[1455,175],[1470,205],[1528,225],[1545,225],[1552,255],[1530,275],[1548,275],[1555,318],[1545,320]];
const pairBlobs = [[1160,640,6],[1160,680,6],[1145,610,3],[1190,730,1.4],[1237,790,7],[1237,830,7],[1265,790,3],[1235,880,2],[1280,830,1.4]];

// ---- data: dots on rows -----------------------------------------------------
const dotRowY = [70,116,160,208,255,303,348,394,442,488,533,581,627,677,720,767,816,860,908,955];
const dotRowWeight = [.3,.6,.35,.35,.7,.9,.25,.9,.9,.15,.9,.9,.15,.3,.9,.3,.3,.7,.7,.3];
const dotColA = [71,62,55,51,50,50,42,41,39,38,36,34,32,31,29,29,23,17,17,12];
const dotColB = [235,223,214,190,228,211,225,217,184,244,225,187,197,175,247,225,217,213,220,175];

// ---- data: bars -------------------------------------------------------------
const barLeft = [495,573,652,733,812,892,970];
const barTopRow = [148,125,100,72,45,45,45];
const barTopColors = ["#3a1a3a","#50213f","#782248","#962350","#b8334d","#d0544a","#df7b5e"];
const barMidRow = [555,527,498,470,453,428,398];
const barMidColors = ["#8ea3c2","#9fabc2","#c1c8d6","#e8eaef","#eddcda","#dfc0bc","#c99b99"];
const barLowRow = [820,743,972,920,845,797,948];
const barLowColors = ["#d9906a","#5a9468","#c07070","#7c6ca0","#836d5c","#c886b0","#8d8d8d"];

// ---- data: filled KDE facets ------------------------------------------------
const fillTL = [[1075,130,1.5],[1080,200,6],[1080,270,3],[1065,330,1]];
const fillTR = [[1370,60,3],[1440,60,4.5],[1500,70,3],[1320,80,1.4],[1300,130,1],[1400,130,3.5],[1450,130,4],[1438,225,9],[1440,290,3],[1480,350,.6],[1380,280,.8],[1300,190,.5]];
const fillBL = [[1065,910,6],[1070,800,2],[1065,720,.8]];
const fillBR = [[1450,950,10],[1440,870,4],[1480,780,2],[1500,700,1],[1370,920,.8],[1530,860,1]];
const fillTLColors = ["#c5e5d5","#a9d6bf","#86c2a0","#64a67f","#4e8a62","#4a7045","#55592f","#5a4522"];
const fillTRColors = ["#cfe8e3","#acd8cd","#88c4b2","#5fa78c","#4a8a66","#3f6e45","#3e5530","#352f17"];
const fillBLColors = ["#dedaf0","#c5c4e5","#a6acd4","#839abf","#5f8aa5","#457a86","#346465","#234a4d"];
const fillBRColors = ["#ecd6ec","#dfc3e3","#cbaad7","#ac8cc4","#8a74ae","#607297","#3e5f7c","#1d3a42"];

// ---- data: stacked horizontal bars ------------------------------------------
const hbarTotal = [415,412,410,395,380,378,367,365,356,351,347,343,338,326,326,319,316];
const hbarPart = [110,155,115,107,99,111,74,74,86,89,107,92,80,95,74,89,77];

// ---- data: point plot with error bars ---------------------------------------
const ptDark = [[557,405],[596,283],[717,45]];
const ptDark2 = [[957,897],[1017,780]];
const ptBlue = [[557,820],[596,806],[765,848]];
const ptBlue2 = [[957,965],[1017,935]];
const ptTeal = [[557,935],[596,935],[765,917]];
const ptErrDark = [[596,205,360],[957,858,940]];
const ptErrBlue = [[596,728,882],[765,788,905],[957,935,990]];
const ptErrTeal = [[596,880,985],[765,862,975],[957,940,1000]];
const ptGridY = [171,370,575,775];

// ---- data: polar spirals ----------------------------------------------------
const spiralTheta = [66,60.7,54,48.8,43.2,37.9,32,26.7,21,15.5,10,4.2,-1.7,-7.6,-13,-18,-23,-28.7,-34.8,-39,-46.4,-52.5,-56.7];
const spiralR = [7.43,7.29,7.19,7.11,7.02,6.97,6.95,6.87,6.73,6.67,6.57,6.49,6.43,6.34,6.14,6.14,5.93,5.84,5.76,5.66,5.53,5.4,5.36];
const spiral2Theta = [126,137.7,148.7,160.6,171.6,182.8,194.5,205.8,217.3,228.5,240.6,139.8,150,161.6,173.4,184.6,195.7,206.5,218.8,229];
const spiral2R = [7.21,7.31,7.46,7.57,7.66,7.79,7.89,7.93,8.01,8.16,8.26,4.24,4.4,4.53,4.57,4.7,4.81,4.96,5.02,5.1];
const polarRings = [2,4,6,8,10];
const polarSpokes = [0,45,90,135,180,225,270,315];

// ---- data: maroon point plot ------------------------------------------------
const maroonA = [[157,622],[423,172]];
const maroonB = [[720,643],[895,160],[990,232]];
const maroonErr = [[157,595,650],[423,135,215],[720,615,672],[895,115,200]];
const maroonGrid = [125,287,453,613];

// ---- data: regression with marginal -----------------------------------------
const regDots = [[392,945],[282,1018],[588,1016],[145,1036],[68,1087],[162,1083],[235,1078],[193,1108],[92,1145],[78,1160],[118,1160],[180,1148],[183,1153],[210,1160],[242,1160],[290,1142],[300,1160],[431,1160],[472,1160],[588,1160],[78,1183],[313,1186],[408,1181],[82,1216],[78,1217],[222,1202],[178,1225],[88,1240],[122,1240],[361,1240],[70,1262],[288,1270],[288,1279],[62,1280],[55,1285],[110,1288],[525,1282],[112,1314],[225,1311],[250,1316],[186,1318],[142,1323],[162,1323],[361,1323],[378,1323],[417,1323],[56,1330],[55,1362],[148,1360],[500,1365],[60,1406],[66,1406],[120,1406],[152,1404],[185,1406],[193,1406],[102,1447],[246,1476]];
const regLine = [[50,1285],[848,975]];
const regBand = [[50,1265,1300],[210,1195,1245],[300,1152,1215],[480,1066,1170],[848,890,1060]];
const regBarY = [[998,1035],[1080,1118],[1120,1158],[1162,1200],[1205,1240],[1245,1280],[1285,1320],[1325,1360],[1365,1400],[1405,1445],[1450,1485]];
const regBarLen = [12,12,62,12,80,72,95,95,95,95,62];
const regKde = [[895,950],[905,1060],[935,1150],[985,1250]];
const regKde2 = [[985,1455],[945,1490]];

// ---- helpers ----------------------------------------------------------------
const svg = d3.select("#chart");
const defs = svg.append("defs");
let clipCount = 0;

function clipRect(x, y, w, h) {
  const id = "clip" + (clipCount++);
  defs.append("clipPath").attr("id", id).append("rect")
    .attr("x", x).attr("y", y).attr("width", w).attr("height", h);
  return `url(#${id})`;
}

function panel(col, row, bg) {
  const yDom = col === 6 ? ySpansLast[row] : ySpans[row];
  const outer = svg.append("g").attr("transform", `translate(${colLeft[col]},${rowTop[row]})`);
  const g = outer.append("g").attr("clip-path", clipRect(0, 0, panelW, panelH));
  g.append("rect").attr("width", panelW).attr("height", panelH).attr("fill", bg || "#fff");
  const x = d3.scaleLinear().domain(xSpans[col]).range([0, panelW]);
  const y = d3.scaleLinear().domain(yDom).range([0, panelH]);
  return { g, outer, x, y };
}

function frame(p) {
  p.outer.append("rect").attr("x", 2).attr("y", 2)
    .attr("width", panelW - 4).attr("height", panelH - 4)
    .attr("fill", "none").attr("stroke", "#000").attr("stroke-width", 4);
}

function hLines(p, ys, x0, x1, color, w) {
  return p.g.selectAll(null).data(ys).join("line")
    .attr("x1", p.x(x0)).attr("x2", p.x(x1))
    .attr("y1", d => p.y(d)).attr("y2", d => p.y(d))
    .attr("stroke", color).attr("stroke-width", w);
}

function vLines(p, xs, y0, y1, color, w) {
  return p.g.selectAll(null).data(xs).join("line")
    .attr("x1", d => p.x(d)).attr("x2", d => p.x(d))
    .attr("y1", p.y(y0)).attr("y2", p.y(y1))
    .attr("stroke", color).attr("stroke-width", w);
}

function curve(p, pts, color, w, kind) {
  return p.g.append("path").datum(pts)
    .attr("d", d3.line().x(d => p.x(d[0])).y(d => p.y(d[1])).curve(kind || d3.curveLinear))
    .attr("fill", "none").attr("stroke", color).attr("stroke-width", w);
}

function dots(p, pts, r, color, opacity) {
  p.g.selectAll(null).data(pts).join("circle")
    .attr("cx", d => p.x(d[0])).attr("cy", d => p.y(d[1])).attr("r", r)
    .attr("fill", color).attr("fill-opacity", opacity === undefined ? 1 : opacity);
}

function band(p, rows, color, opacity) {
  p.g.append("path").datum(rows)
    .attr("d", d3.area().x(d => p.x(d[0])).y0(d => p.y(d[1])).y1(d => p.y(d[2])).curve(d3.curveMonotoneX))
    .attr("fill", color).attr("fill-opacity", opacity);
}

function label(p, x, y, text, size, anchor, color) {
  p.g.append("text").attr("x", p.x(x)).attr("y", p.y(y))
    .attr("font-size", size).attr("text-anchor", anchor || "middle")
    .attr("dominant-baseline", "middle").attr("fill", color || "#333").text(text);
}

// density contours from weighted blobs, levels given as a share of the peak
function densityLevels(p, blobs, bandwidth, shares) {
  const pad = 160;
  const gen = d3.contourDensity()
    .x(d => p.x(d[0]) + pad).y(d => p.y(d[1]) + pad)
    .weight(d => d[2]).size([panelW + 2 * pad, panelH + 2 * pad])
    .bandwidth(bandwidth).cellSize(2);
  const c = gen.contours(blobs);
  const path = d3.geoPath();
  return shares.map(s => path(c(s * c.max)));
}

function contourLines(p, blobs, bandwidth, shares, color, w) {
  const pad = 160;
  p.g.append("g").attr("transform", `translate(${-pad},${-pad})`)
    .selectAll("path").data(densityLevels(p, blobs, bandwidth, shares)).join("path")
    .attr("d", d => d).attr("fill", "none").attr("stroke", color).attr("stroke-width", w);
}

function contourFills(p, blobs, bandwidth, shares, colors, clip) {
  const pad = 160;
  p.g.append("g").attr("clip-path", clip).append("g").attr("transform", `translate(${-pad},${-pad})`)
    .selectAll("path").data(densityLevels(p, blobs, bandwidth, shares)).join("path")
    .attr("d", d => d).attr("fill", (d, i) => colors[i]);
}

function errBars(p, rows, color, capWidth, w) {
  rows.forEach(r => {
    vLines(p, [r[0]], r[1], r[2], color, w);
    hLines(p, [r[1], r[2]], r[0] - capWidth, r[0] + capWidth, color, w);
  });
}

// ---- row 1 ------------------------------------------------------------------
function drawViolins() {
  const p = panel(0, 0);
  hLines(p, violinGrid, 15, 478, "#ececec", 2);
  violinCenters.forEach((c, i) => {
    [[violinLeft[i], -1, "#4a6a9e", violinQuartLeft[i]], [violinRight[i], 1, "#d3d3d3", violinQuartRight[i]]].forEach(side => {
      const prof = side[0];
      p.g.append("path").datum(prof)
        .attr("d", d3.area().y(d => p.y(d[0])).x0(p.x(c)).x1(d => p.x(c + side[1] * d[1])).curve(d3.curveMonotoneY))
        .attr("fill", side[2]).attr("stroke", "#555").attr("stroke-width", 1);
      side[3].forEach((q, k) => {
        const near = prof.reduce((a, b) => Math.abs(b[0] - q) < Math.abs(a[0] - q) ? b : a);
        p.g.append("line").attr("x1", p.x(c)).attr("x2", p.x(c + side[1] * near[1]))
          .attr("y1", p.y(q)).attr("y2", p.y(q)).attr("stroke", "#333")
          .attr("stroke-width", k === 1 ? 1.8 : 1.4).attr("stroke-dasharray", "2,2");
      });
    });
  });
  frame(p);
}

function drawCorrDots() {
  const p = panel(1, 0);
  hLines(p, corrRows, 548, 1017, "#cfcfcf", 1.2);
  vLines(p, corrCols, 20, 965, "#cfcfcf", 1.2);
  const color = d3.scaleLinear().domain([-1, -.2, 0, .3, .6, 1]).range(["#8f9fc0", "#d0d7e4", "#fbfafa", "#e8bcbc", "#c9747a", "#a01f2b"]);
  const size = d3.scaleSqrt().domain([0, 1]).range([4.8, 10]);
  corrValues.forEach((row, r) => row.forEach((v, c) => {
    p.g.append("circle").attr("cx", p.x(corrCols[c])).attr("cy", p.y(corrRows[r]))
      .attr("r", size(Math.abs(v))).attr("fill", color(v))
      .attr("stroke", "#d6d4d4").attr("stroke-width", v > .5 ? 0 : .8);
  }));
  frame(p);
}

function drawHexbin() {
  const p = panel(2, 0);
  hexTopBars.forEach((top, i) => {
    if (top >= 110) return;
    p.g.append("rect").attr("x", p.x(1088 + i * 22.2)).attr("y", p.y(top))
      .attr("width", p.x(1110) - p.x(1088) - 1).attr("height", p.y(108) - p.y(top)).attr("fill", "#66bb9a");
  });
  hLines(p, [110], 1085, 1553, "#666", 2);
  hexTicks.forEach(t => vLines(p, [t], 110, 132, "#555", 1));
  const color = d3.scaleLinear().domain([1, 3, 5, 8, 10]).range(["#e3f3ed", "#a6dac6", "#4ba685", "#1f5a45", "#050505"]);
  const r = 9.1, w = r * Math.sqrt(3) / 2;
  const hex = [[0, -r], [w, -r / 2], [w, r / 2], [0, r], [-w, r / 2], [-w, -r / 2]];
  hexCounts.forEach((row, i) => row.forEach((v, c) => {
    if (!v) return;
    const cx = p.x(hexRowStart[i] + c * 22.5), cy = p.y(hexRowY[i]);
    p.g.append("path").attr("d", "M" + hex.map(h => [cx + h[0], cy + h[1]].join(",")).join("L") + "Z").attr("fill", color(v));
  }));
  frame(p);
}

function drawStackedHist() {
  const p = panel(3, 0);
  const layers = [histLayer1, histLayer2, histLayer3, histLayer4, histLayer5];
  layers.forEach((tops, l) => tops.forEach((t, i) => {
    p.g.append("rect").attr("x", p.x(20 + i * 14.3)).attr("y", p.y(t))
      .attr("width", p.x(34.3) - p.x(20)).attr("height", p.y(975) - p.y(t))
      .attr("fill", histColors[l]).attr("stroke", "#5a5468").attr("stroke-opacity", .8).attr("stroke-width", 1);
  }));
  vLines(p, [478], 20, 350, "#777", 1);
  frame(p);
}

function drawBoxes() {
  const p = panel(4, 0);
  vLines(p, [724, 890], 15, 965, "#cfcfcf", 1);
  boxLo.forEach((lo, i) => {
    const mid = (boxY[i][0] + boxY[i][1]) / 2;
    hLines(p, [mid], whiskLo[i], whiskHi[i], "#777", 2);
    vLines(p, [whiskLo[i], whiskHi[i]], mid - 12, mid + 12, "#666", 2);
    p.g.append("rect").attr("x", p.x(lo)).attr("y", p.y(boxY[i][0]))
      .attr("width", p.x(boxHi[i]) - p.x(lo)).attr("height", p.y(boxY[i][1]) - p.y(boxY[i][0]))
      .attr("fill", boxFill[i]).attr("stroke", "#777").attr("stroke-width", 2);
    vLines(p, [boxMed[i]], boxY[i][0], boxY[i][1], "#555", 2);
    dots(p, stripX[i].map((v, k) => [v, mid + stripJitter[k % stripJitter.length]]), 2.5, "#444", 1);
  });
  frame(p);
}

function drawIris() {
  const p = panel(5, 0);
  vLines(p, irisGrid, 20, 910, "#e2e2e2", 1);
  irisRows.forEach((ry, i) => {
    const color = irisColors[irisKind[i]];
    dots(p, irisX[i].map((v, k) => [v, ry + stripJitter[k % stripJitter.length] * .7]), 2.5, color, .42);
    p.g.append("path").attr("transform", `translate(${p.x(irisMean[i])},${p.y(ry)}) scale(.6,1)`)
      .attr("d", d3.symbol(d3.symbolDiamond, 70)).attr("fill", color);
  });
  p.g.append("rect").attr("x", p.x(1327)).attr("y", p.y(765)).attr("width", p.x(1600) - p.x(1327)).attr("height", p.y(890) - p.y(765))
    .attr("fill", "#fff").attr("stroke", "#ddd").attr("rx", 3);
  label(p, 1520, 797, "species", 13);
  p.g.append("path").attr("transform", `translate(${p.x(1353)},${p.y(857)}) scale(.6,1)`).attr("d", d3.symbol(d3.symbolDiamond, 60)).attr("fill", irisColors[0]);
  label(p, 1372, 857, "setosa", 13, "start");
  p.g.append("path").attr("transform", `translate(${p.x(1469)},${p.y(857)}) scale(.6,1)`).attr("d", d3.symbol(d3.symbolDiamond, 60)).attr("fill", irisColors[1]);
  label(p, 1490, 857, "versicolor", 13, "start");
  frame(p);
}

function drawHeat2d() {
  const p = panel(6, 0);
  const color = d3.scaleLinear().domain([0, 1, 5, 10]).range(["#fff", "#d9d9e3", "#6f6f8e", "#0a0a30"]);
  gridCells.forEach(c => {
    p.g.append("rect").attr("x", p.x(77 + c[1] * 38.05)).attr("y", p.y(22 + c[0] * 31.2))
      .attr("width", p.x(115.05) - p.x(77) + .3).attr("height", p.y(53.2) - p.y(22) + .3).attr("fill", color(c[2]));
  });
  frame(p);
}

// ---- row 2 ------------------------------------------------------------------
function drawPenguinKde() {
  const p = panel(0, 1);
  contourLines(p, penguinAdelie, 21, [.06,.13,.22,.31,.4,.5,.6,.7,.82,.93], "#3f68ad", 1.5);
  contourLines(p, penguinChinstrap, 20, [.08,.25,.42,.6,.78], "#dc7a46", 1.5);
  contourLines(p, penguinGentoo, 17, [.06,.14,.22,.3,.38,.46,.54,.62,.7,.8], "#3f9c5c", 1.5);
  curve(p, margTopAdelie, "#4c72b0", 1.2, d3.curveMonotoneX);
  curve(p, margTopGentoo, "#55a868", 1.2, d3.curveMonotoneX);
  curve(p, margTopChinstrap, "#dd8452", 1.2, d3.curveMonotoneX);
  curve(p, margTopGentoo2, "#55a868", 1.2, d3.curveMonotoneX);
  hLines(p, [106], 15, 425, "#333", 1.6);
  [55,132,210,287,364].forEach(t => vLines(p, [t], 106, 125, "#555", 1));
  vLines(p, [441], 140, 970, "#777", 1.3);
  [252,452,650,845].forEach(t => hLines(p, [t], 430, 441, "#555", 1));
  curve(p, margRightAdelie, "#4c72b0", 1.2, d3.curveMonotoneY);
  curve(p, margRightChinstrap, "#dd8452", 1.2, d3.curveMonotoneY);
  curve(p, margRightGentoo, "#55a868", 1.2, d3.curveMonotoneY);
  curve(p, margRightAdelie2, "#4c72b0", 1.2, d3.curveMonotoneY);
  p.g.append("rect").attr("x", p.x(258)).attr("y", p.y(165)).attr("width", p.x(412) - p.x(258)).attr("height", p.y(405) - p.y(165))
    .attr("fill", "#fff").attr("fill-opacity", .8).attr("stroke", "#e2e2e2").attr("rx", 3);
  label(p, 333, 200, "species", 14);
  [["Adelie", 258, "#4c72b0"], ["Chinstrap", 313, "#dd8452"], ["Gentoo", 368, "#55a868"]].forEach(l => {
    hLines(p, [l[1]], 265, 305, l[2], 1.6);
    label(p, 320, l[1], l[0], 13.5, "start");
  });
  frame(p);
}

function drawRidges() {
  const p = panel(1, 1);
  ridgeBase.forEach((b, i) => {
    const shape = ridgeShapes[i];
    p.g.append("path").datum(shape)
      .attr("d", d3.area().x(d => p.x(d[0])).y0(p.y(b)).y1(d => p.y(d[1])).curve(d3.curveMonotoneX))
      .attr("fill", ridgeColors[i]);
    curve(p, shape, "#f4f6f8", 1, d3.curveMonotoneX);
    hLines(p, [b], 548, 1017, ridgeColors[i], 2.4);
  });
  frame(p);
}

function drawBoxen() {
  const p = panel(2, 1);
  hLines(p, boxenGrid, 1085, 1553, "#e4e4e4", 2);
  const shade = d3.scaleLinear().domain([0, 1]).range(["#d8dfeb", "#496a9c"]);
  boxenCenters.forEach((c, i) => {
    const lv = boxenLevels[i];
    lv.forEach((l, k) => {
      p.g.append("rect").attr("x", p.x(c - l[2])).attr("y", p.y(l[0]))
        .attr("width", p.x(c + l[2]) - p.x(c - l[2])).attr("height", p.y(l[1]) - p.y(l[0]))
        .attr("fill", k === 0 ? "#444" : shade(k / (lv.length - 1))).attr("stroke", "#444a58").attr("stroke-width", 1.3);
    });
    const last = lv[lv.length - 1];
    hLines(p, [boxenMedian[i]], c - last[2], c + last[2], "#3d4a60", 2);
  });
  boxenOutliers.forEach(o => p.g.append("path").attr("transform", `translate(${p.x(o[0])},${p.y(o[1])}) scale(.6,1)`)
    .attr("d", d3.symbol(d3.symbolDiamond, 60)).attr("fill", "#444"));
  boxenLabels.forEach((t, i) => label(p, boxenCenters[i + 1], 967, t, 9, "middle", "#555"));
  frame(p);
}

function drawHexmap() {
  const p = panel(3, 1, "#e6e7ef");
  dots(p, hexmapDots, 1.15, "#111");
  hexmapValues.forEach((row, r) => row.forEach((v, c) => {
    if (!v) return;
    p.g.append("rect").attr("x", p.x(100 + (hexmapStart[r] + c) * 14.7)).attr("y", p.y(hexmapRows[r] - 15))
      .attr("width", 10.1).attr("height", 10.1).attr("fill", makoRamp[v]);
  }));
  [hexmapRing1, hexmapRing2, hexmapRing3].forEach(ring => {
    curve(p, ring, "#eee9f2", 1.1, d3.curveCatmullRomClosed);
  });
  frame(p);
}

function drawLogit() {
  const p = panel(4, 1, "#e6e7ef");
  hLines(p, [180,367,553,741], 553, 1021, "#fff", 1.4);
  vLines(p, [633,800,872,944], 20, 970, "#fff", 1.4);
  p.g.append("rect").attr("x", p.x(707)).attr("y", 0).attr("width", p.x(730) - p.x(707)).attr("height", panelH).attr("fill", "#fff");
  band(p, logitBlueBand, "#5b8de0", .2);
  band(p, logitRedBand, "#e8747c", .2);
  curve(p, logitBlueLine, "#5b8de0", 2);
  curve(p, logitRedLine, "#ea7078", 2, d3.curveMonotoneX);
  dots(p, logitBlueDots, 4, "#6495ed", .9);
  dots(p, logitRedDots, 4, "#ec7a80", .9);
  frame(p);
}

function drawWalks() {
  const p = panel(5, 1);
  const axisTop = [10, 375, 745], axisBottom = [203, 575, 945];
  const yTicks = [[192], [390, 563], [760, 935]];
  walkValues.forEach((rowVals, r) => rowVals.forEach((ys, c) => {
    const left = walkColLeft[c];
    const xs = ys.map((y, i) => left + i * 28.6);
    vLines(p, [left - 14], axisTop[r], axisBottom[r], "#333", 1.6);
    hLines(p, [axisBottom[r]], left - 14, left + 128, "#555", 1.6);
    xs.forEach(v => vLines(p, [v], axisBottom[r], axisBottom[r] + 18, "#444", 1));
    yTicks[r].forEach(t => hLines(p, [t], left - 21, left - 14, "#444", 1));
    hLines(p, [walkMid[r]], left, left + 115, "#777", 1.2).attr("stroke-dasharray", "1.5,1.5");
    const pts = ys.map((y, i) => [xs[i], y]);
    curve(p, pts, walkColors[r][c], 2);
    dots(p, pts, 4.2, walkColors[r][c]);
    if (r > 0) label(p, left + 56, axisTop[r] - 37, walkTitles[r][c], 13.5);
    label(p, left + 56, axisBottom[r] + 52, "2", 13.5);
  }));
  frame(p);
}

function drawTriangle() {
  const p = panel(6, 1);
  const color = d3.scaleLinear().domain([-1, 0, 1]).range(["#2a7a9f", "#f2f2f2", "#b8442a"]);
  triValues.forEach((row, r) => row.forEach((v, c) => {
    p.g.append("rect").attr("x", p.x(35 + c * 67.5)).attr("y", p.y(802 + r * 51))
      .attr("width", p.x(102.5) - p.x(35)).attr("height", p.y(869) - p.y(818))
      .attr("fill", color(v)).attr("stroke", "#fff").attr("stroke-width", 1);
  }));
  frame(p);
}

// ---- row 3 ------------------------------------------------------------------
function drawRugScatter() {
  const p = panel(0, 2);
  p.g.selectAll(null).data(rugScatter).join("line")
    .attr("x1", d => p.x(d[0])).attr("x2", d => p.x(d[0])).attr("y1", p.y(40)).attr("y2", p.y(88))
    .attr("stroke", "#4f9a6b").attr("stroke-opacity", .45).attr("stroke-width", 1);
  p.g.selectAll(null).data(rugScatter).join("line")
    .attr("y1", d => p.y(d[1])).attr("y2", d => p.y(d[1])).attr("x1", p.x(459)).attr("x2", p.x(478))
    .attr("stroke", "#4f9a6b").attr("stroke-opacity", .45).attr("stroke-width", 1);
  hLines(p, [91], 15, 458, "#888", 2);
  vLines(p, [458], 91, 980, "#999", 1.6);
  dots(p, rugScatter, 3.9, "#4f9f72", .65);
  frame(p);
}

function drawTwoKde() {
  const p = panel(1, 2, "#e6e7ef");
  hLines(p, kdeGridY, 548, 1017, "#fff", 1.4);
  vLines(p, kdeGridX, 30, 980, "#fff", 1.4);
  contourLines(p, kdeOrange, 20, [.05,.14,.24,.34,.44,.54,.64,.74,.86], "#dc7a46", 1.5);
  contourLines(p, kdeBlue, 15, [.05,.12,.2,.28,.36,.44,.52,.6,.7,.8], "#3f68ad", 1.5);
  frame(p);
}

function drawTealArea() {
  const p = panel(2, 2, "#a9d6d4");
  const fill = (pts, color) => p.g.append("path").datum(pts)
    .attr("d", d3.area().x(d => p.x(d[0])).y0(p.y(985)).y1(d => p.y(d[1])).curve(d3.curveMonotoneX)).attr("fill", color);
  fill(areaLineA, "#83b5c1");
  fill(areaLineB, "#6b92ab");
  fill(areaLineC, "#5b7898");
  fill(areaLineD, "#4f5266");
  [areaLineA, areaLineB, areaLineC, areaLineD].forEach(l => curve(p, l, "#e8eef2", 1.1, d3.curveMonotoneX));
  vLines(p, areaGridX, 30, 980, "#1a3a4a", 1.2).attr("stroke-opacity", .1);
  hLines(p, areaGridY, 1085, 1553, "#1a3a4a", 1.2).attr("stroke-opacity", .1);
  frame(p);
}

function drawSteps() {
  const p = panel(3, 2);
  vLines(p, [316], 30, 980, "#999", 1.6);
  stepTicksY.forEach(t => hLines(p, [t], 305, 316, "#555", 1.2));
  stepLeft.forEach((s, i) => curve(p, s, stepColors[i], 1.7, d3.curveStepAfter));
  stepRight.forEach((s, i) => curve(p, s, stepRightColors[i], 1.7, d3.curveStepAfter));
  frame(p);
}

function drawThreeLm() {
  const p = panel(4, 2, "#e6e7ef");
  hLines(p, lmGridY, 553, 1021, "#fff", 1.4);
  vLines(p, lmGridX, 30, 980, "#fff", 1.4);
  band(p, lmBlueBand, "#4c72b0", .18);
  band(p, lmOrangeBand, "#dd8452", .18);
  band(p, lmGreenBand, "#55a868", .18);
  dots(p, lmBlueDots, 3.9, "#4472ab");
  dots(p, lmOrangeDots, 3.9, "#e0804f");
  dots(p, lmGreenDots, 3.9, "#4fa563");
  curve(p, lmBlueLine, "#4472ab", 2);
  curve(p, lmOrangeLine, "#dd8452", 2);
  curve(p, lmGreenLine, "#4f9a5e", 2);
  frame(p);
}

function drawPair() {
  const p = panel(5, 2);
  curve(p, pairKdeTop, "#3f68ad", 1.8, d3.curveMonotoneX);
  hLines(p, [410], 1095, 1352, "#666", 2);
  vLines(p, [1389], 30, 410, "#999", 1.4);
  hLines(p, [410], 1389, 1558, "#666", 2);
  dots(p, pairDots, 2.2, "#4c72b0");
  contourLines(p, pairBlobs, 13, [.05,.1,.15,.2,.25,.3,.35,.4,.45,.5,.55,.6,.65,.7,.78,.88], "#3f68ad", 1.2);
  vLines(p, [1389], 470, 980, "#999", 1.4);
  curve(p, pairKdeRight, "#3f68ad", 1.8, d3.curveMonotoneX);
  frame(p);
}

function drawMaroon() {
  const p = panel(6, 2);
  hLines(p, maroonGrid, 50, 553, "#dcdcdc", 1.3);
  hLines(p, maroonGrid, 632, 985, "#dcdcdc", 1.3);
  curve(p, maroonA, "#4c0f3c", 3.2);
  curve(p, maroonB, "#4c0f3c", 3.2);
  errBars(p, maroonErr, "#4c0f3c", 0, 3.6);
  dots(p, maroonA.concat(maroonB.slice(0, 2)), 6.4, "#4c0f3c");
  frame(p);
}

// ---- row 4 ------------------------------------------------------------------
function drawDotRows() {
  const p = panel(0, 3);
  const shade = d3.scaleLinear().domain([0, 1]).range(["#f2f2f2", "#c6c6c6"]);
  dotRowY.forEach((y, i) => [[15, 108], [148, 410], [450, 477]].forEach(seg => {
    hLines(p, [y], seg[0], seg[1], shade(dotRowWeight[i]), 1.6);
  }));
  dots(p, dotColA.map((v, i) => [v, dotRowY[i]]), 4.8, "#3b68a8");
  dots(p, dotColB.map((v, i) => [v, dotRowY[i]]), 4.8, "#3b68a8");
  frame(p);
}

function drawBars() {
  const p = panel(1, 3);
  const bw = p.x(634) - p.x(573);
  barLeft.forEach((l, i) => {
    p.g.append("rect").attr("x", p.x(l)).attr("y", p.y(barTopRow[i])).attr("width", bw)
      .attr("height", p.y(195) - p.y(barTopRow[i])).attr("fill", barTopColors[i]);
    const m0 = Math.min(barMidRow[i], 460), m1 = Math.max(barMidRow[i], 460);
    p.g.append("rect").attr("x", p.x(l)).attr("y", p.y(m0)).attr("width", bw)
      .attr("height", p.y(m1) - p.y(m0)).attr("fill", barMidColors[i]);
    p.g.append("rect").attr("x", p.x(l)).attr("y", p.y(barLowRow[i])).attr("width", bw)
      .attr("height", p.y(986) - p.y(barLowRow[i])).attr("fill", barLowColors[i]);
  });
  hLines(p, [198, 461], 548, 1017, "#333", 2);
  frame(p);
}

function drawFilledKde() {
  const p = panel(2, 3);
  const facets = [
    [1090, 45, 1225, 523, "#eaf5f0", fillTL, 23, fillTLColors],
    [1255, 45, 1550, 523, "#eef6f7", fillTR, 21, fillTRColors],
    [1090, 585, 1225, 990, "#f4f0fa", fillBL, 22, fillBLColors],
    [1255, 585, 1550, 990, "#f8eef6", fillBR, 21, fillBRColors]];
  facets.forEach(f => {
    const x = p.x(f[0]), y = p.y(f[1]), w = p.x(f[2]) - x, h = p.y(f[3]) - y;
    p.g.append("rect").attr("x", x).attr("y", y).attr("width", w).attr("height", h).attr("fill", f[4]);
    contourFills(p, f[5], f[6], [.05,.15,.25,.35,.45,.6,.75,.9], f[7], clipRect(x, y, w, h));
  });
  frame(p);
}

function drawHbars() {
  const p = panel(3, 3);
  vLines(p, [103,225,352], 38, 986, "#e8e8e8", 1);
  const rowH = p.y(92) - p.y(46);
  hbarTotal.forEach((t, i) => {
    const y = p.y(12 + i * 59.3);
    p.g.append("rect").attr("x", p.x(16)).attr("y", y).attr("width", p.x(t) - p.x(16)).attr("height", rowH).attr("fill", "#a1c4e8");
    p.g.append("rect").attr("x", p.x(16)).attr("y", y).attr("width", p.x(hbarPart[i]) - p.x(16)).attr("height", rowH)
      .attr("fill", "#4f72b5").attr("stroke", "#fff").attr("stroke-width", .6);
  });
  frame(p);
}

function drawPointErr() {
  const p = panel(4, 3);
  hLines(p, ptGridY, 557, 848, "#dedede", 1.6);
  hLines(p, ptGridY, 872, 1017, "#dedede", 1.6);
  errBars(p, ptErrTeal, "#62aeb0", 18, 3);
  errBars(p, ptErrBlue, "#1f78b4", 18, 3);
  errBars(p, ptErrDark, "#265a73", 18, 3);
  curve(p, ptTeal, "#62aeb0", 2.6);
  curve(p, ptBlue, "#1f78b4", 2.6);
  curve(p, ptBlue2, "#1f78b4", 2.6);
  curve(p, ptDark, "#265a73", 2.6);
  curve(p, ptDark2, "#265a73", 2.6);
  dots(p, [ptTeal[1], ptTeal[2], [957, 965]], 5, "#62aeb0");
  dots(p, [ptBlue[1], ptBlue[2], ptBlue2[0]], 5, "#1f78b4");
  dots(p, [ptDark[1], ptDark2[0]], 5, "#265a73");
  frame(p);
}

function drawPolar() {
  const p = panel(5, 3);
  const r = d3.scaleLinear().domain([0, 10]).range([0, 140]);
  const polarDisc = (cx, thetas, rs, color) => {
    const g = p.g.append("g").attr("transform", `translate(${p.x(cx)},${p.y(510)})`);
    g.append("circle").attr("r", 143).attr("fill", "#e6e7ef");
    g.selectAll(null).data(polarRings).join("circle").attr("r", d => r(d))
      .attr("fill", "none").attr("stroke", "#fff").attr("stroke-width", 1.2);
    g.selectAll(null).data(polarSpokes).join("line").each(function (d) {
      const e = d3.pointRadial((90 - d) * Math.PI / 180, 143);
      d3.select(this).attr("x2", e[0]).attr("y2", e[1]).attr("stroke", "#fff").attr("stroke-width", 1.2);
    });
    g.selectAll(null).data(thetas).join("circle").each(function (d, i) {
      const e = d3.pointRadial((90 - d) * Math.PI / 180, r(rs[i]));
      d3.select(this).attr("cx", e[0]).attr("cy", e[1]).attr("r", 2.8).attr("fill", color);
    });
  };
  polarDisc(1039, spiralTheta, spiralR, "#3f69a8");
  polarDisc(1619, spiral2Theta, spiral2R, "#df7a45");
  [["45°",1214,160],["0°",1285,510],["315°",1214,855],["135°",1445,160],["180°",1375,510],["225°",1445,855],
   ["4",1125,430],["6",1162,400],["8",1200,370],["10",1245,335]].forEach(t => label(p, t[1], t[2], t[0], 12));
  frame(p);
}

function drawRegression() {
  const p = panel(6, 3, "#e6e7ef");
  vLines(p, [182,405,622], 865, 1568, "#fff", 1.3);
  hLines(p, [1075,1240,1407], 42, 993, "#fff", 1.3);
  p.g.append("rect").attr("x", p.x(848)).attr("y", 0).attr("width", p.x(895) - p.x(848)).attr("height", panelH).attr("fill", "#fff");
  band(p, regBand, "#7b6cb0", .22);
  dots(p, regDots, 3.8, "#7b6cb0", .85);
  curve(p, regLine, "#7b6cb0", 1.8);
  regBarY.forEach((b, i) => {
    p.g.append("rect").attr("x", p.x(897)).attr("y", p.y(b[0])).attr("width", p.x(897 + regBarLen[i]) - p.x(897))
      .attr("height", p.y(b[1]) - p.y(b[0])).attr("fill", "#a99fca");
  });
  curve(p, regKde, "#7b6cb0", 1.3, d3.curveMonotoneY);
  curve(p, regKde2, "#7b6cb0", 1.3);
  frame(p);
}

drawViolins(); drawCorrDots(); drawHexbin(); drawStackedHist(); drawBoxes(); drawIris(); drawHeat2d();
drawPenguinKde(); drawRidges(); drawBoxen(); drawHexmap(); drawLogit(); drawWalks(); drawTriangle();
drawRugScatter(); drawTwoKde(); drawTealArea(); drawSteps(); drawThreeLm(); drawPair(); drawMaroon();
drawDotRows(); drawBars(); drawFilledKde(); drawHbars(); drawPointErr(); drawPolar(); drawRegression();

// slide number sits on top of the last panel
svg.append("text").attr("x", 2423).attr("y", 1404).attr("font-size", 50).attr("fill", "#d2d2d2").text("15");
</script>
</body>
</html>
